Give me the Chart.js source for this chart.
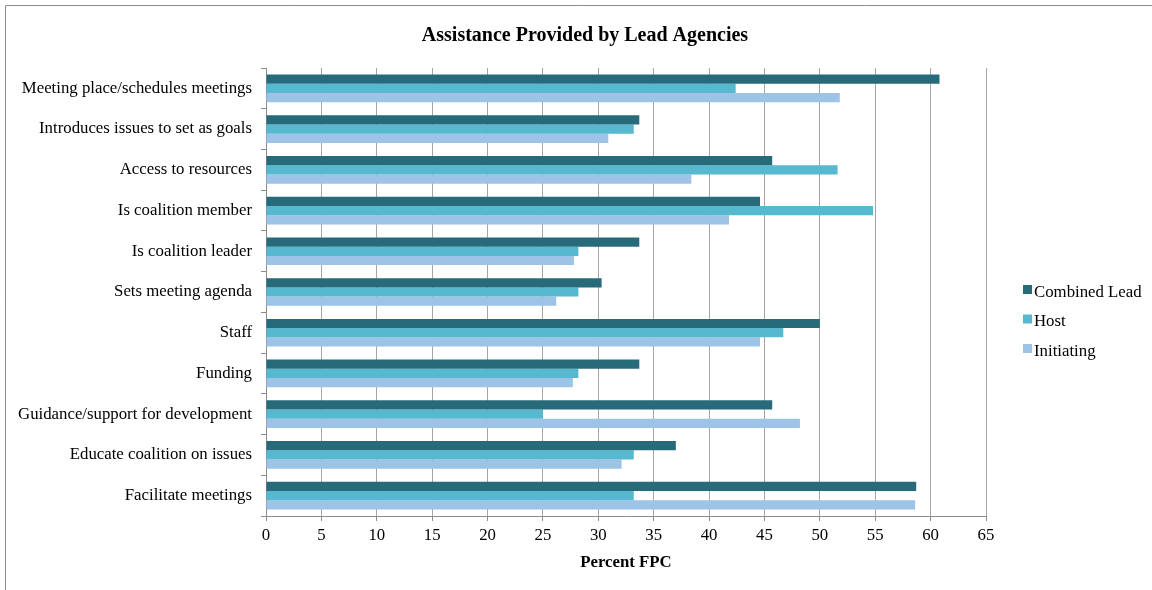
<!DOCTYPE html>
<html>
<head>
<meta charset="utf-8">
<title>Assistance Provided by Lead Agencies</title>
<script src="https://cdn.jsdelivr.net/npm/chart.js@4/dist/chart.umd.min.js"></script>
<style>
  html, body { margin: 0; padding: 0; background: #ffffff; }
  #wrap { width: 1152px; height: 590px; position: relative; }
</style>
</head>
<body>
<div id="wrap"><canvas id="chart" width="1152" height="590"></canvas></div>
<script>
// Categories, top to bottom
const categories = [
  'Meeting place/schedules meetings',
  'Introduces issues to set as goals',
  'Access to resources',
  'Is coalition member',
  'Is coalition leader',
  'Sets meeting agenda',
  'Staff',
  'Funding',
  'Guidance/support for development',
  'Educate coalition on issues',
  'Facilitate meetings'
];

// Percent FPC per lead-agency type
const combinedLead = [60.8, 33.7, 45.7, 44.6, 33.7, 30.3, 50.0, 33.7, 45.7, 37.0, 58.7];
const host         = [42.4, 33.2, 51.6, 54.8, 28.2, 28.2, 46.7, 28.2, 25.0, 33.2, 33.2];
const initiating   = [51.8, 30.9, 38.4, 41.8, 27.8, 26.2, 44.6, 27.7, 48.2, 32.1, 58.6];

// X axis tick values
const xTickValues = [0, 5, 10, 15, 20, 25, 30, 35, 40, 45, 50, 55, 60, 65];

const seriesNames = ['Combined Lead', 'Host', 'Initiating'];
const seriesColors = ['#276B7A', '#57B9D0', '#9DC3E6'];

const chartTitle = 'Assistance Provided by Lead Agencies';
const serif = "'Liberation Serif', 'DejaVu Serif', serif";
const textSize = 16.8;

// White background, outer frame lines and the chart title
const framePlugin = {
  id: 'frame',
  beforeDraw(chart) {
    const ctx = chart.ctx;
    ctx.save();
    ctx.fillStyle = '#ffffff';
    ctx.fillRect(0, 0, chart.width, chart.height);
    ctx.strokeStyle = '#8c8c8c';
    ctx.lineWidth = 1;
    ctx.beginPath();
    ctx.moveTo(5.5, chart.height);
    ctx.lineTo(5.5, 5.5);
    ctx.lineTo(chart.width, 5.5);
    ctx.stroke();
    ctx.fillStyle = '#000000';
    ctx.font = 'bold 20px ' + serif;
    ctx.textAlign = 'center';
    ctx.textBaseline = 'middle';
    ctx.fillText(chartTitle, 585, 35.5);
    ctx.restore();
  }
};

// Legend drawn at the right of the plot, from the datasets
const sideLegend = {
  id: 'sideLegend',
  afterDraw(chart) {
    const ctx = chart.ctx;
    ctx.save();
    ctx.font = textSize + 'px ' + serif;
    ctx.textBaseline = 'middle';
    ctx.textAlign = 'left';
    chart.data.datasets.forEach((ds, i) => {
      const y = 292.5 + i * 29.5;
      ctx.fillStyle = ds.backgroundColor;
      ctx.fillRect(1023, y - 7.5, 9, 9);
      ctx.fillStyle = '#000000';
      ctx.fillText(ds.label, 1034, y);
    });
    ctx.restore();
  }
};

const datasets = [combinedLead, host, initiating].map((values, i) => ({
  label: seriesNames[i],
  data: values,
  backgroundColor: seriesColors[i],
  borderWidth: 0,
  barPercentage: 1.0,
  categoryPercentage: 0.68
}));

new Chart(document.getElementById('chart'), {
  type: 'bar',
  data: { labels: categories, datasets },
  plugins: [framePlugin, sideLegend],
  options: {
    indexAxis: 'y',
    responsive: false,
    animation: false,
    layout: { padding: { left: 0, right: 166, top: 68, bottom: 0 } },
    plugins: {
      legend: { display: false },
      tooltip: { enabled: false },
      title: { display: false }
    },
    scales: {
      x: {
        type: 'linear',
        min: 0,
        max: 65,
        afterBuildTicks(scale) {
          scale.ticks = xTickValues.map(v => ({ value: v }));
        },
        afterFit(scale) { scale.height = 74; },
        grid: {
          color: '#a6a6a6',
          lineWidth: 1,
          drawTicks: true,
          tickLength: 5,
          tickColor: '#8c8c8c'
        },
        border: { display: true, color: '#8c8c8c' },
        ticks: {
          color: '#000000',
          font: { family: serif, size: textSize },
          padding: 5,
          maxRotation: 0
        },
        title: {
          display: true,
          text: 'Percent FPC',
          color: '#000000',
          font: { family: serif, size: textSize, weight: 'bold' },
          padding: { top: 4, bottom: 17 }
        }
      },
      y: {
        type: 'category',
        offset: true,
        afterFit(scale) { scale.width = 266; },
        grid: {
          offset: true,
          drawOnChartArea: false,
          drawTicks: true,
          tickLength: 5,
          tickColor: '#8c8c8c'
        },
        border: { display: true, color: '#8c8c8c' },
        ticks: {
          color: '#000000',
          font: { family: serif, size: textSize },
          padding: 9,
          autoSkip: false
        }
      }
    }
  }
});
</script>
</body>
</html>
